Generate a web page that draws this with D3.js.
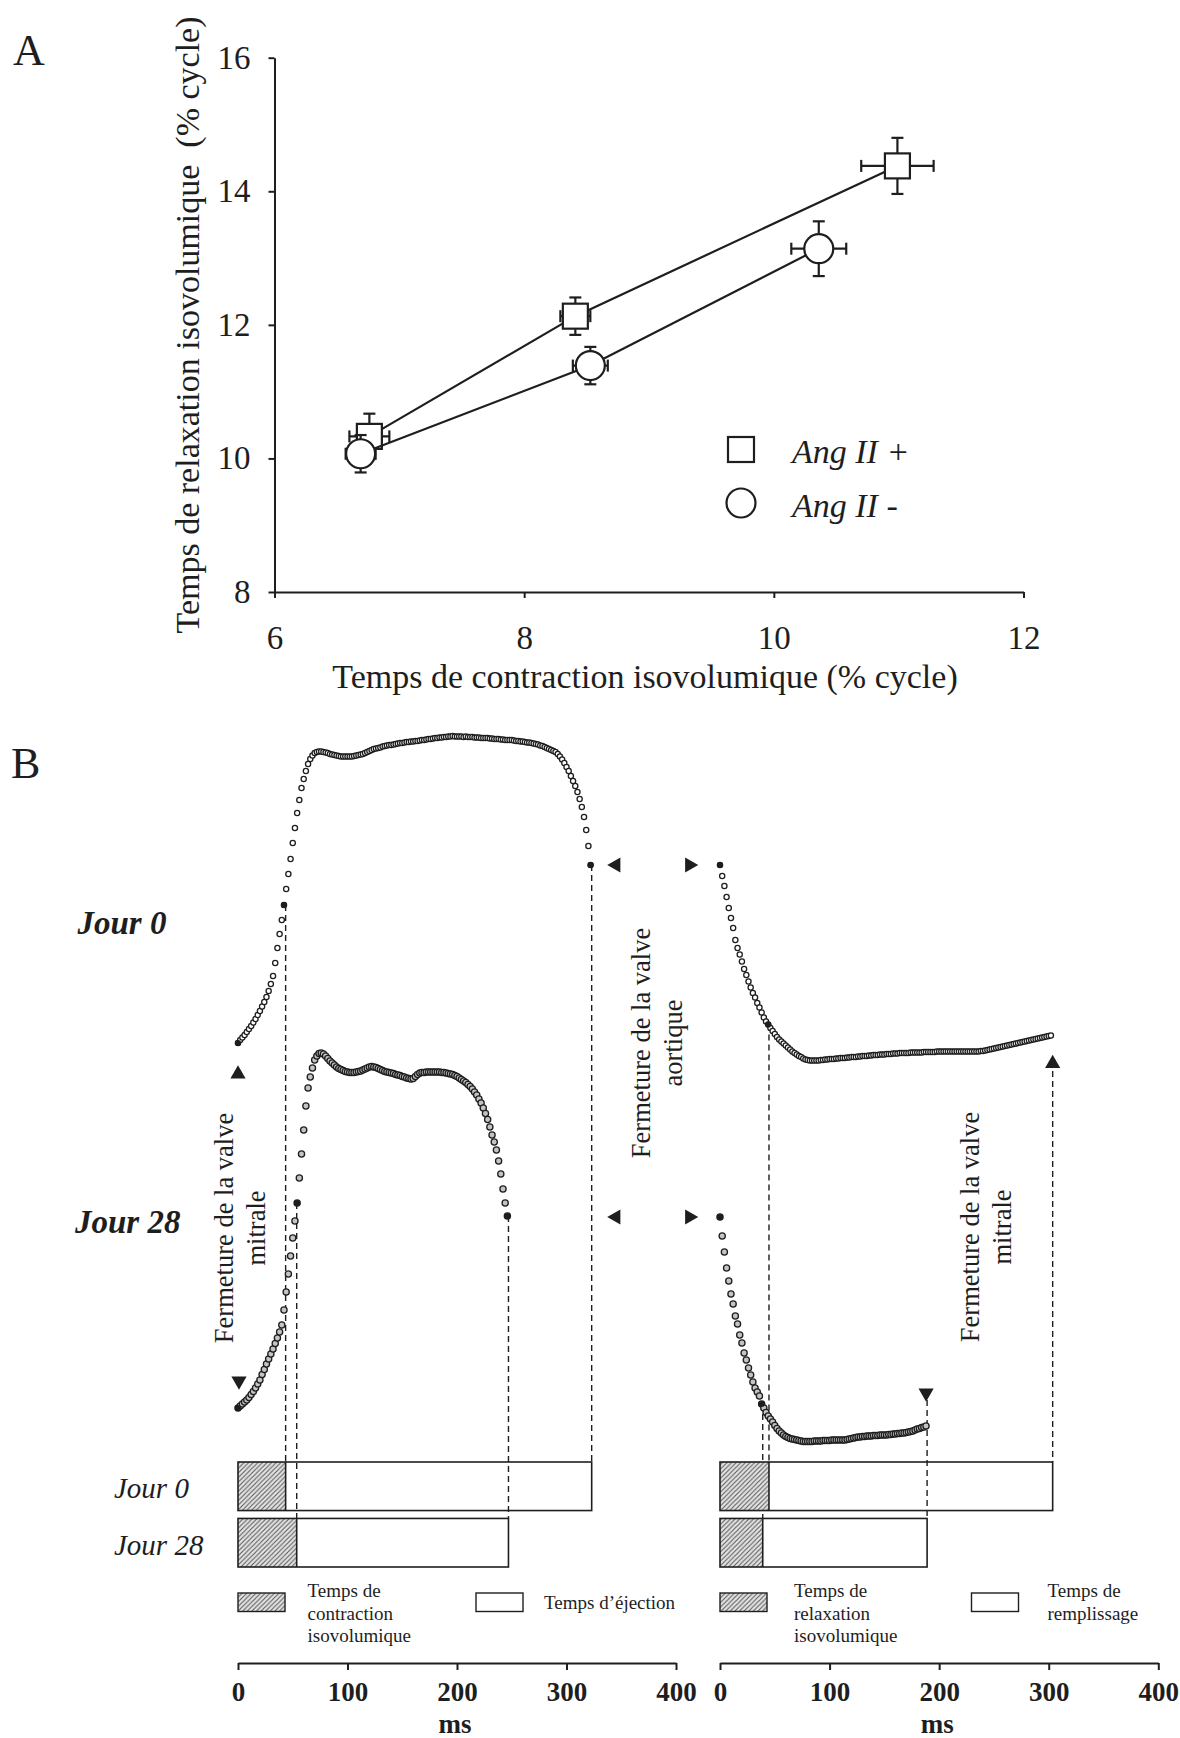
<!DOCTYPE html>
<html>
<head>
<meta charset="utf-8">
<script src="https://cdn.jsdelivr.net/npm/d3@7"></script>
<style>
  body { margin: 0; background: #fff; }
  svg { display: block; font-family: "Liberation Serif", "Times New Roman", serif; }
</style>
</head>
<body>
<svg width="1180" height="1738"></svg>
<script>
/*
 * Panel A: isovolumic relaxation vs contraction time (% of cycle)
 * Panel B: LV pressure traces (Jour 0 / Jour 28) and phase durations
 */

// ---- Panel A data
var groupsA = ["Ang II +", "Ang II -"];
var angPlusX = [6.76, 8.41, 10.99],
    angPlusY = [10.33, 12.13, 14.38],
    angPlusXErr = [0.16, 0.12, 0.29],
    angPlusYErr = [0.34, 0.28, 0.42];
var angMinusX = [6.69, 8.53, 10.36],
    angMinusY = [10.07, 11.39, 13.14],
    angMinusXErr = [0.12, 0.14, 0.22],
    angMinusYErr = [0.28, 0.28, 0.41];
var xTicksA = [6, 8, 10, 12],
    yTicksA = [8, 10, 12, 14, 16];

// ---- Panel B data (times in ms)
var days = ["Jour 0", "Jour 28"];
var contraction = [43.5, 53.6],    // temps de contraction isovolumique
    ejectionEnd = [323, 247],      // fin de l'ejection
    relaxation = [44.7, 39],       // temps de relaxation isovolumique
    fillingEnd = [303.6, 189];     // fin du remplissage
var msTicks = [0, 100, 200, 300, 400];
var sampleMs = 2;                  // one dot every 2 ms

// pressure samples (u.a.), one value per dot
var j0Ejection = [
  27, 30, 32.5, 35, 38, 41, 44, 47.5, 51, 55,
  59, 63.5, 68, 73, 79, 86, 94, 107, 122, 136,
  150, 165, 181, 196, 211, 227, 242, 257, 270, 282,
  291, 299, 306, 311, 314.5, 317, 318, 318.5, 318.5, 318,
  317.5, 317, 316, 315.5, 315, 314.5, 314, 313.5, 313.5, 313.5,
  313.5, 313.5, 313.5, 314, 314.5, 315, 315.5, 316, 317, 318,
  319, 320, 321, 321.5, 322, 322.5, 323.5, 324, 324.5, 325,
  325, 325.5, 326, 326.5, 327, 327, 327.5, 328, 328, 328.5,
  328.5, 329, 329, 329.5, 330, 330, 330.5, 331, 331, 331.5,
  332, 332, 332.5, 332.5, 333, 333, 333.5, 333.5, 334, 333.5,
  333.5, 333.5, 333.5, 333, 333.5, 333, 333, 333, 332.5, 332.5,
  332.5, 332, 332, 332, 332, 331.5, 331.5, 331, 331, 331,
  330.5, 330.5, 330, 330, 330, 330, 329.5, 329, 329, 328.5,
  328.5, 328, 327.5, 327.5, 327, 326.5, 326, 325.5, 324.5, 324,
  323, 322, 321, 320, 319, 318, 316, 313.5, 310.5, 307,
  303, 299, 294, 289, 284, 278, 271, 263, 253, 240,
  224, 205];
var j0Filling = [
  205, 194, 184, 173, 162, 152, 142, 130, 122, 115.5,
  108.5, 101, 95, 88.5, 82.5, 77, 72.5, 67, 62.5, 57.5,
  52.5, 48.5, 45.5, 42, 39, 36, 33, 30.5, 28.5, 26.5,
  24.5, 22.5, 20.5, 18.5, 17, 15.5, 14, 13, 11.5, 10.5,
  10, 9.5, 9.5, 9.5, 9.5, 9.5, 10, 10, 10.5, 10.5,
  11, 11, 11, 11.5, 11.5, 12, 12, 12, 12.5, 12.5,
  13, 13, 13, 13.5, 13.5, 14, 14, 14, 14.5, 14.5,
  15, 15, 15, 15.5, 15.5, 15.5, 16, 16, 16, 16.5,
  16.5, 16.5, 17, 17, 17, 17, 17, 17.5, 17.5, 17.5,
  17.5, 17.5, 17.5, 18, 18, 18, 18, 18, 18, 18.5,
  18.5, 18.5, 18.5, 18.5, 18.5, 18.5, 18.5, 18.5, 18.5, 18.5,
  18.5, 18.5, 18.5, 18.5, 18.5, 18.5, 18.5, 18.5, 18.5, 19,
  19, 19.5, 20, 20.5, 21, 21.5, 22, 22.5, 23, 23.5,
  24, 24.5, 25, 25.5, 26, 26.5, 27, 27.5, 28, 28.5,
  29, 29.5, 30, 30.5, 31, 31.5, 32, 32.5, 33, 33.5,
  34, 34.5];
var j28Ejection = [
  44, 46, 48, 50, 52, 54.5, 57.5, 60.5, 64, 68,
  72, 77.5, 82.5, 88, 93, 98, 103, 108.5, 114, 120,
  127, 142, 160, 178, 196, 214, 231, 249, 274, 298,
  322, 346, 364, 375, 384, 392, 396, 398.5, 399, 398,
  396, 393.5, 391, 389, 387, 385, 383.5, 382.5, 381.5, 380.5,
  380, 379.5, 379.5, 379.5, 380, 380.5, 381, 382, 383, 384,
  385, 385.5, 385, 384.5, 383.5, 382.5, 381.5, 380.5, 380, 379.5,
  379, 378.5, 377.5, 377, 376.5, 375.5, 375, 374, 373.5, 373,
  373.5, 375.5, 377.5, 379, 379.5, 379.5, 380, 380, 380, 380,
  380, 380, 380, 379.5, 379.5, 379, 378.5, 378, 377.5, 376.5,
  375.5, 374, 372.5, 371, 369.5, 367.5, 365.5, 363, 360, 357,
  353, 349, 344, 338.5, 332.5, 325, 317, 310, 302, 291,
  278, 263, 249, 236];
var j28Filling = [
  235, 216, 200, 184, 171, 158, 148, 136, 128, 117,
  109, 99, 92, 84, 77, 70, 64, 60, 56, 48,
  44, 39.5, 36, 33, 30, 26.5, 23.5, 21, 19, 17,
  15.5, 14.5, 13.5, 13, 12.5, 12, 11.5, 11, 10.5, 10.5,
  10.5, 10.5, 10.5, 11, 11, 11, 11, 11.5, 11.5, 11.5,
  11.5, 12, 12, 12, 12, 12, 12, 12, 12.5, 13,
  13.5, 14, 14.5, 15, 15, 15.5, 15.5, 16, 16, 16,
  16.5, 16.5, 16.5, 17, 17, 17, 17, 17.5, 17.5, 18,
  18, 18.5, 18.5, 19, 19, 19.5, 20, 20.5, 21, 22,
  23, 23.5, 24.5, 25, 26];
// indices of the black dots (valve events)
var j0EjectionMarks = [0, 21, 161],
    j0FillingMarks = [0, 22],
    j28EjectionMarks = [0, 27, 123],
    j28FillingMarks = [0, 19];

var ink = "#1e1e1e";
var serif = "'Liberation Serif', 'Times New Roman', serif";
var svg = d3.select("svg");

// ================= Panel A =================
var xA = d3.scaleLinear().domain([6, 12]).range([274.5, 1023.5]),
    yA = d3.scaleLinear().domain([8, 16]).range([592, 57.7]);

var gA = svg.append("g").attr("class", "panelA");

function styleAxis(g, size, weight) {
  g.attr("font-family", serif)
   .attr("font-size", size).attr("font-weight", weight || "normal");
  g.selectAll("path, line").attr("stroke", ink).attr("stroke-width", 2);
  g.selectAll("text").attr("fill", ink);
}

gA.append("g")
    .attr("transform", "translate(0," + yA(8) + ")")
    .call(d3.axisBottom(xA).tickValues(xTicksA).tickFormat(d3.format("d"))
      .tickSize(6).tickSizeOuter(0).tickPadding(28))
    .call(styleAxis, 33);

gA.append("g")
    .attr("transform", "translate(" + xA(6) + ",0)")
    .call(d3.axisLeft(yA).tickValues(yTicksA).tickFormat(d3.format("d"))
      .tickSize(6).tickSizeOuter(0).tickPadding(18))
    .call(styleAxis, 33);

gA.append("text")
    .attr("x", 645).attr("y", 688)
    .attr("text-anchor", "middle").attr("font-size", 34).attr("fill", ink)
    .text("Temps de contraction isovolumique (% cycle)");

gA.append("text")
    .attr("transform", "translate(199,325) rotate(-90)")
    .attr("text-anchor", "middle").attr("font-size", 34).attr("fill", ink)
    .text("Temps de relaxation isovolumique \u00a0(% cycle)");

gA.append("text").attr("x", 13).attr("y", 65)
    .attr("font-size", 44).attr("fill", ink).text("A");

var seriesA = [
  {name: groupsA[0], shape: "square", x: angPlusX, y: angPlusY, ex: angPlusXErr, ey: angPlusYErr},
  {name: groupsA[1], shape: "circle", x: angMinusX, y: angMinusY, ex: angMinusXErr, ey: angMinusYErr}
];

var cap = 6;
seriesA.forEach(function(s) {
  var pts = s.x.map(function(v, i){ return {x: v, y: s.y[i], ex: s.ex[i], ey: s.ey[i]}; });
  var g = gA.append("g");

  g.append("path")
      .attr("d", d3.line().x(function(d){return xA(d.x);}).y(function(d){return yA(d.y);})(pts))
      .attr("fill", "none").attr("stroke", ink).attr("stroke-width", 2.2);

  // error bars with caps
  var eb = g.selectAll("g.err").data(pts).enter().append("g")
      .attr("stroke", ink).attr("stroke-width", 2.2);
  eb.append("line")
      .attr("x1", function(d){return xA(d.x);}).attr("x2", function(d){return xA(d.x);})
      .attr("y1", function(d){return yA(d.y + d.ey);}).attr("y2", function(d){return yA(d.y - d.ey);});
  eb.append("line")
      .attr("x1", function(d){return xA(d.x) - cap;}).attr("x2", function(d){return xA(d.x) + cap;})
      .attr("y1", function(d){return yA(d.y + d.ey);}).attr("y2", function(d){return yA(d.y + d.ey);});
  eb.append("line")
      .attr("x1", function(d){return xA(d.x) - cap;}).attr("x2", function(d){return xA(d.x) + cap;})
      .attr("y1", function(d){return yA(d.y - d.ey);}).attr("y2", function(d){return yA(d.y - d.ey);});
  eb.append("line")
      .attr("x1", function(d){return xA(d.x - d.ex);}).attr("x2", function(d){return xA(d.x + d.ex);})
      .attr("y1", function(d){return yA(d.y);}).attr("y2", function(d){return yA(d.y);});
  eb.append("line")
      .attr("x1", function(d){return xA(d.x - d.ex);}).attr("x2", function(d){return xA(d.x - d.ex);})
      .attr("y1", function(d){return yA(d.y) - cap;}).attr("y2", function(d){return yA(d.y) + cap;});
  eb.append("line")
      .attr("x1", function(d){return xA(d.x + d.ex);}).attr("x2", function(d){return xA(d.x + d.ex);})
      .attr("y1", function(d){return yA(d.y) - cap;}).attr("y2", function(d){return yA(d.y) + cap;});

  if (s.shape == "square") {
    g.selectAll("rect").data(pts).enter().append("rect")
        .attr("x", function(d){return xA(d.x) - 12.5;}).attr("y", function(d){return yA(d.y) - 12.5;})
        .attr("width", 25).attr("height", 25)
        .attr("fill", "#fff").attr("stroke", ink).attr("stroke-width", 2.2);
  } else {
    g.selectAll("circle").data(pts).enter().append("circle")
        .attr("cx", function(d){return xA(d.x);}).attr("cy", function(d){return yA(d.y);})
        .attr("r", 14.5)
        .attr("fill", "#fff").attr("stroke", ink).attr("stroke-width", 2.2);
  }
});

// legend
var legA = gA.append("g");
legA.append("rect").attr("x", 728).attr("y", 437).attr("width", 26).attr("height", 25)
    .attr("fill", "#fff").attr("stroke", ink).attr("stroke-width", 2.2);
legA.append("circle").attr("cx", 741).attr("cy", 503).attr("r", 14.5)
    .attr("fill", "#fff").attr("stroke", ink).attr("stroke-width", 2.2);
legA.selectAll("text").data(groupsA).enter().append("text")
    .attr("x", 792).attr("y", function(d, i){return 462.5 + i * 54;})
    .attr("font-size", 34).attr("font-style", "italic").attr("fill", ink)
    .text(function(d){return d;});

// ================= Panel B =================
var xL = d3.scaleLinear().domain([0, 400]).range([238, 676]),
    xR = d3.scaleLinear().domain([0, 400]).range([720, 1158.3]);
var yJ0 = d3.scaleLinear().domain([0, 340]).range([1070, 730]),
    yJ28 = d3.scaleLinear().domain([0, 400]).range([1452, 1052]);
var yBar = d3.scaleBand().domain(days).range([1462, 1567]).paddingInner(0.14).paddingOuter(0);

var defs = svg.append("defs");
var pat = defs.append("pattern").attr("id", "hatch")
    .attr("patternUnits", "userSpaceOnUse").attr("width", 4.6).attr("height", 4.6);
pat.append("rect").attr("width", 4.6).attr("height", 4.6).attr("fill", "#e4e4e4");
pat.append("path").attr("d", "M-1,1 L1,-1 M0,4.6 L4.6,0 M3.6,5.6 L5.6,3.6")
    .attr("stroke", "#5a5a5a").attr("stroke-width", 1.1);

var gB = svg.append("g").attr("class", "panelB");

gB.append("text").attr("x", 11).attr("y", 778)
    .attr("font-size", 44).attr("fill", ink).text("B");

// dashed guides: from the event dot down to the bar
var yBarTop = function(day){ return yBar(day); };
var guides = [
  {x: xL(contraction[0]), y1: yJ0(j0Ejection[j0EjectionMarks[1]]), day: days[0]},
  {x: xL(ejectionEnd[0]), y1: yJ0(j0Ejection[j0EjectionMarks[2]]), day: days[0]},
  {x: xL(contraction[1]), y1: yJ28(j28Ejection[j28EjectionMarks[1]]), day: days[1]},
  {x: xL(ejectionEnd[1]), y1: yJ28(j28Ejection[j28EjectionMarks[2]]), day: days[1]},
  {x: xR(relaxation[0]), y1: yJ0(j0Filling[j0FillingMarks[1]]), day: days[0]},
  {x: xR(relaxation[1]), y1: yJ28(j28Filling[j28FillingMarks[1]]), day: days[1]},
  {x: xR(fillingEnd[0]), y1: 1071, day: days[0]},
  {x: xR(fillingEnd[1]), y1: 1400, day: days[1]}
];
gB.append("g").selectAll("line").data(guides).enter().append("line")
    .attr("x1", function(d){return d.x;}).attr("x2", function(d){return d.x;})
    .attr("y1", function(d){return d.y1;}).attr("y2", function(d){return yBarTop(d.day);})
    .attr("stroke", ink).attr("stroke-width", 1.4).attr("stroke-dasharray", "6,4");

// pressure traces drawn as dots
function drawTrace(values, xs, ys, fill, r, marks) {
  var g = gB.append("g");
  g.selectAll("circle.dot").data(values).enter().append("circle")
      .attr("class", "dot")
      .attr("cx", function(d, i){return xs(i * sampleMs);})
      .attr("cy", function(d){return ys(d);})
      .attr("r", r)
      .attr("fill", fill).attr("stroke", ink).attr("stroke-width", 1.3);
  g.selectAll("circle.mark").data(marks).enter().append("circle")
      .attr("class", "mark")
      .attr("cx", function(i){return xs(i * sampleMs);})
      .attr("cy", function(i){return ys(values[i]);})
      .attr("r", 3.1).attr("fill", ink);
}
drawTrace(j0Ejection, xL, yJ0, "#fff", 2.6, j0EjectionMarks);
drawTrace(j0Filling, xR, yJ0, "#fff", 2.6, j0FillingMarks);
drawTrace(j28Ejection, xL, yJ28, "#c4c4c4", 3.1, j28EjectionMarks);
drawTrace(j28Filling, xR, yJ28, "#c4c4c4", 3.1, j28FillingMarks);

// valve arrows
var tri = d3.symbol().type(d3.symbolTriangle).size(100);
var arrows = [
  {x: xL(0), y: 1074, rot: 0},
  {x: xL(0) + 1, y: 1381, rot: 180},
  {x: 616, y: yJ0(j0Ejection[j0EjectionMarks[2]]), rot: -90},
  {x: 689.5, y: yJ0(j0Ejection[j0EjectionMarks[2]]), rot: 90},
  {x: 616, y: yJ28(j28Ejection[j28EjectionMarks[2]]) + 1, rot: -90},
  {x: 689.5, y: yJ28(j28Ejection[j28EjectionMarks[2]]) + 1, rot: 90},
  {x: xR(fillingEnd[0]), y: 1063.5, rot: 0},
  {x: xR(fillingEnd[1]) - 1, y: 1393, rot: 180}
];
gB.append("g").selectAll("path").data(arrows).enter().append("path")
    .attr("d", tri)
    .attr("transform", function(d){return "translate(" + d.x + "," + d.y + ") rotate(" + d.rot + ")";})
    .attr("fill", ink);

// rotated valve labels
var valveLabels = [
  {x: 232.5, y: 1228, lines: ["Fermeture de la valve", "mitrale"]},
  {x: 650, y: 1043, lines: ["Fermeture de la valve", "aortique"]},
  {x: 979, y: 1227, lines: ["Fermeture de la valve", "mitrale"]}
];
valveLabels.forEach(function(v) {
  v.lines.forEach(function(t, k) {
    gB.append("text")
        .attr("transform", "translate(" + (v.x + k * 32) + "," + v.y + ") rotate(-90)")
        .attr("text-anchor", "middle").attr("font-size", 26.5).attr("fill", ink)
        .text(t);
  });
});

// day labels next to the traces
gB.selectAll("text.day").data(days).enter().append("text")
    .attr("class", "day")
    .attr("x", function(d, i){return i ? 75 : 77.5;})
    .attr("y", function(d, i){return i ? 1233 : 934;})
    .attr("font-size", 33).attr("font-weight", "bold").attr("font-style", "italic").attr("fill", ink)
    .text(function(d){return d;});

// phase bars
var bw = yBar.bandwidth();
function drawBars(xs, iso, total) {
  var g = gB.append("g");
  days.forEach(function(day, i) {
    g.append("rect")
        .attr("x", xs(0)).attr("y", yBar(day))
        .attr("width", xs(iso[i]) - xs(0)).attr("height", bw)
        .attr("fill", "url(#hatch)");
    g.append("rect")
        .attr("x", xs(0)).attr("y", yBar(day))
        .attr("width", xs(total[i]) - xs(0)).attr("height", bw)
        .attr("fill", "none").attr("stroke", ink).attr("stroke-width", 1.6);
    g.append("line")
        .attr("x1", xs(iso[i])).attr("x2", xs(iso[i]))
        .attr("y1", yBar(day)).attr("y2", yBar(day) + bw)
        .attr("stroke", ink).attr("stroke-width", 1.6);
  });
}
drawBars(xL, contraction, ejectionEnd);
drawBars(xR, relaxation, fillingEnd);

gB.selectAll("text.barday").data(days).enter().append("text")
    .attr("class", "barday")
    .attr("x", 114)
    .attr("y", function(d){return yBar(d) + bw / 2 + 12;})
    .attr("font-size", 29).attr("font-style", "italic").attr("fill", ink)
    .text(function(d){return d;});

// bar legends
var legB = [
  {x: 238, hatch: true, tx: 307.5, lines: ["Temps de", "contraction", "isovolumique"]},
  {x: 476, hatch: false, tx: 544, lines: ["", "Temps d\u2019\u00e9jection"]},
  {x: 720, hatch: true, tx: 794, lines: ["Temps de", "relaxation", "isovolumique"]},
  {x: 971.5, hatch: false, tx: 1047.5, lines: ["Temps de", "remplissage"]}
];
legB.forEach(function(l) {
  gB.append("rect").attr("x", l.x).attr("y", 1593).attr("width", 47).attr("height", 18.5)
      .attr("fill", l.hatch ? "url(#hatch)" : "#fff").attr("stroke", ink).attr("stroke-width", 1.4);
  var t = gB.append("text").attr("x", l.tx).attr("y", 1597)
      .attr("font-size", 19).attr("fill", ink);
  l.lines.forEach(function(s, k) {
    if (s === "") return;
    t.append("tspan").attr("x", l.tx).attr("y", 1597 + k * 22.5 - (l.lines[0] === "" ? 10.5 : 0)).text(s);
  });
});

// time axes
[xL, xR].forEach(function(xs) {
  gB.append("g")
      .attr("transform", "translate(0,1663)")
      .call(d3.axisBottom(xs).tickValues(msTicks).tickSize(7).tickSizeOuter(0).tickPadding(12))
      .call(styleAxis, 27, "bold");
  gB.append("text")
      .attr("x", xs(200) - 2).attr("y", 1733)
      .attr("text-anchor", "middle").attr("font-size", 27).attr("font-weight", "bold").attr("fill", ink)
      .text("ms");
});
</script>
</body>
</html>
